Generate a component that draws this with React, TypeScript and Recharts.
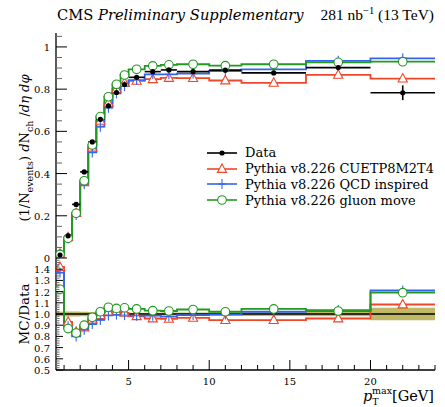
import React from "react";
import {
  ComposedChart, Line, Scatter, Area, XAxis, YAxis, ErrorBar, ReferenceLine,
} from "recharts";

const SERIF = "'DejaVu Serif', 'Liberation Serif', serif";
const TIMES = "'Liberation Serif', 'DejaVu Serif', serif";
const RED = "#f0462a";
const BLUE = "#3565ee";
const GREEN = "#229922";
const OLIVE = "#a9a232";

// bins in pT max [GeV]
const binEdges = [0.5, 1, 1.5, 2, 2.5, 3, 3.5, 4, 4.5, 5, 6, 7, 8, 10, 12, 16, 20, 24];
const binCenters = [0.75, 1.25, 1.75, 2.25, 2.75, 3.25, 3.75, 4.25, 4.75, 5.5, 6.5, 7.5, 9, 11, 14, 18, 22];

// upper panel: (1/Nevents) dNch/deta dphi
const dataValues = [0.014, 0.105, 0.254, 0.408, 0.55, 0.657, 0.721, 0.784, 0.822, 0.856, 0.883, 0.891, 0.883, 0.89, 0.877, 0.902, 0.783];
const dataErrors = [0.002, 0.004, 0.005, 0.005, 0.005, 0.005, 0.005, 0.005, 0.005, 0.005, 0.005, 0.005, 0.005, 0.006, 0.008, 0.012, 0.035];
const cuetp8Values = [0.02, 0.098, 0.213, 0.359, 0.523, 0.65, 0.735, 0.8, 0.83, 0.839, 0.847, 0.853, 0.852, 0.841, 0.83, 0.868, 0.85];
const qcdValues = [0.019, 0.093, 0.204, 0.35, 0.5, 0.622, 0.712, 0.78, 0.814, 0.843, 0.87, 0.87, 0.874, 0.886, 0.894, 0.934, 0.946];
const gluonValues = [0.017, 0.093, 0.212, 0.366, 0.535, 0.67, 0.764, 0.823, 0.867, 0.894, 0.91, 0.915, 0.918, 0.911, 0.918, 0.927, 0.93];

// lower panel: MC / Data
const dataRatioErrors = [0.02, 0.022, 0.022, 0.02, 0.018, 0.015, 0.012, 0.012, 0.012, 0.012, 0.012, 0.013, 0.014, 0.015, 0.018, 0.02, 0.055];
const cuetp8Ratio = [1.42, 0.93, 0.84, 0.88, 0.95, 0.99, 1.02, 1.02, 1.01, 0.98, 0.96, 0.957, 0.965, 0.945, 0.946, 0.96, 1.085];
const qcdRatio = [1.37, 0.89, 0.8, 0.86, 0.91, 0.947, 0.987, 0.995, 0.99, 0.985, 0.985, 0.977, 0.99, 0.995, 1.02, 1.035, 1.21];
const gluonRatio = [1.22, 0.87, 0.83, 0.9, 0.97, 1.02, 1.06, 1.05, 1.055, 1.045, 1.03, 1.027, 1.04, 1.02, 1.045, 1.027, 1.19];

// ticks
const xMinorTicks = Array.from({ length: 24 }, (_, i) => i + 1);
const xMajorTicks = [5, 10, 15, 20];
const topYLabels = [0, 0.2, 0.4, 0.6, 0.8, 1];
const topYTicks = Array.from({ length: 22 }, (_, i) => Math.round(i * 5) / 100);
const ratioYLabels = [0.5, 0.6, 0.7, 0.8, 0.9, 1.0, 1.1, 1.2, 1.3, 1.4];
const ratioYTicks = Array.from({ length: 51 }, (_, i) => Math.round(500 + i * 20) / 1000);

const steps = (vals: number[]) => [
  ...vals.map((v, i) => ({ x: binEdges[i], y: v })),
  { x: binEdges[vals.length], y: vals[vals.length - 1] },
];
const points = (vals: number[]) => vals.map((v, i) => ({ x: binCenters[i], y: v }));

const dataPoints = dataValues.map((v, i) => ({
  x: binCenters[i],
  y: v,
  xe: (binEdges[i + 1] - binEdges[i]) / 2,
  ye: dataErrors[i],
}));
const bandData = [
  ...dataRatioErrors.map((e, i) => ({ x: binEdges[i], band: [1 - e, 1 + e] })),
  { x: 24, band: [1 - dataRatioErrors[16], 1 + dataRatioErrors[16]] },
];

const isIn = (list: number[], v: number) => list.some((l) => Math.abs(l - v) < 1e-6);

const Triangle = (p: any) => (
  <path
    d={`M${p.cx},${p.cy - 5} L${p.cx + 4.6},${p.cy + 3.4} L${p.cx - 4.6},${p.cy + 3.4} Z`}
    fill="#fff" stroke={RED} strokeWidth={1.1}
  />
);
const Plus = (p: any) => (
  <g stroke={BLUE} strokeWidth={1.1}>
    <line x1={p.cx - 4} x2={p.cx + 4} y1={p.cy} y2={p.cy} />
    <line x1={p.cx} x2={p.cx} y1={p.cy - 5} y2={p.cy + 5} />
  </g>
);
const Circle = (p: any) => (
  <circle cx={p.cx} cy={p.cy} r={4.3} fill="#fff" stroke={GREEN} strokeWidth={1.1} />
);
const Dot = (p: any) => <circle cx={p.cx} cy={p.cy} r={2.6} fill="#000" />;

function YTick(props: any) {
  const { x, y, payload, side, labels, majorLen, minorLen, fmt } = props;
  const v = payload.value;
  const major = isIn(labels, v);
  const dir = side === "left" ? 1 : -1;
  const len = major ? majorLen : minorLen;
  return (
    <g>
      <line x1={x} x2={x + dir * len} y1={y} y2={y} stroke={major ? "#000" : "#666"} strokeWidth={1} />
      {major && side === "left" && (
        <text x={x - 6} y={y} dy={4} textAnchor="end" fontSize={10} fontFamily={SERIF} fill="#000">
          {fmt(v)}
        </text>
      )}
    </g>
  );
}

function XTick(props: any) {
  const { x, y, payload, dir, majorLen, minorLen, labels } = props;
  const major = isIn(xMajorTicks, payload.value);
  const len = major ? majorLen : minorLen;
  return (
    <g>
      <line x1={x} x2={x} y1={y} y2={y + dir * len} stroke="#000" strokeWidth={1} />
      {labels && major && (
        <text x={x} y={y + 15} textAnchor="middle" fontSize={10} fontFamily={SERIF} fill="#000">
          {payload.value}
        </text>
      )}
    </g>
  );
}

const series = [
  { name: "Pythia v8.226 CUETP8M2T4", color: RED, top: cuetp8Values, ratio: cuetp8Ratio, shape: Triangle },
  { name: "Pythia v8.226 QCD inspired", color: BLUE, top: qcdValues, ratio: qcdRatio, shape: Plus },
  { name: "Pythia v8.226 gluon move", color: GREEN, top: gluonValues, ratio: gluonRatio, shape: Circle },
];

const xProps = {
  type: "number" as const,
  dataKey: "x",
  domain: [0.5, 24],
  ticks: xMinorTicks,
  interval: 0 as const,
  allowDataOverflow: true,
  tickSize: 0,
  tickMargin: 0,
  tickLine: false,
  axisLine: { stroke: "#000", strokeWidth: 1.3 },
};

function Legend() {
  const rows = [{ name: "Data", color: "#000", shape: Dot }, ...series];
  return (
    <div style={{ position: "absolute", left: 205, top: 145, fontFamily: SERIF, fontSize: 13 }}>
      {rows.map((r) => (
        <div key={r.name} style={{ display: "flex", alignItems: "center", height: 15.8 }}>
          <svg width={34} height={14}>
            <line x1={2} x2={32} y1={7} y2={7} stroke={r.color} strokeWidth={1.6} />
            {r.shape({ cx: 17, cy: 7 })}
          </svg>
          <span style={{ marginLeft: 6, whiteSpace: "nowrap" }}>{r.name}</span>
        </div>
      ))}
    </div>
  );
}

export default function App() {
  return (
    <div style={{ position: "absolute", left: 0, top: 0, width: 445, height: 407, background: "#fff" }}>
      {/* lower panel: ratio */}
      <div style={{ position: "absolute", left: 0, top: 0 }}>
        <ComposedChart width={445} height={407} data={bandData} margin={{ top: 258, right: 10, bottom: 0, left: 8 }}>
          <XAxis {...xProps} height={37}
            tick={(p: any) => <XTick {...p} dir={-1} majorLen={10} minorLen={5} labels />} />
          <XAxis {...xProps} xAxisId="top" orientation="top" height={0}
            tick={(p: any) => <XTick {...p} dir={1} majorLen={11} minorLen={6} />} />
          <YAxis type="number" domain={[0.5, 1.5]} ticks={ratioYTicks} interval={0} allowDataOverflow
            width={48} tickSize={0} tickMargin={0} tickLine={false} axisLine={{ stroke: "#000", strokeWidth: 1.3 }}
            tick={(p: any) => <YTick {...p} side="left" labels={ratioYLabels} majorLen={7} minorLen={3.5} fmt={(v: number) => v.toFixed(1)} />} />
          <YAxis yAxisId="r" orientation="right" type="number" domain={[0.5, 1.5]} ticks={ratioYTicks} interval={0}
            width={0} tickSize={0} tickMargin={0} tickLine={false} axisLine={{ stroke: "#000", strokeWidth: 1.3 }}
            tick={(p: any) => <YTick {...p} side="right" labels={ratioYLabels} majorLen={7} minorLen={3.5} />} />
          <Area dataKey="band" type="stepAfter" fill={OLIVE} fillOpacity={0.75} stroke="none" isAnimationActive={false} />
          <ReferenceLine y={1} stroke="#000" strokeWidth={1.3} />
          {series.map((s) => (
            <Line key={s.name} data={steps(s.ratio)} dataKey="y" type="stepAfter" stroke={s.color}
              strokeWidth={1.8} dot={false} activeDot={false} isAnimationActive={false} />
          ))}
          {series.map((s) => (
            <Scatter key={s.name + "m"} data={points(s.ratio)} dataKey="y" shape={s.shape} isAnimationActive={false} />
          ))}
        </ComposedChart>
      </div>

      {/* upper panel */}
      <div style={{ position: "absolute", left: 0, top: 0 }}>
        <ComposedChart width={445} height={268} margin={{ top: 33, right: 10, bottom: 10, left: 8 }}>
          <XAxis {...xProps} height={0}
            tick={(p: any) => <XTick {...p} dir={-1} majorLen={8} minorLen={5} />} />
          <XAxis {...xProps} xAxisId="top" orientation="top" height={0}
            tick={(p: any) => <XTick {...p} dir={1} majorLen={10} minorLen={5} />} />
          <YAxis type="number" domain={[0, 1.066]} ticks={topYTicks} interval={0} allowDataOverflow
            width={48} tickSize={0} tickMargin={0} tickLine={false} axisLine={{ stroke: "#000", strokeWidth: 1.3 }}
            tick={(p: any) => <YTick {...p} side="left" labels={topYLabels} majorLen={11} minorLen={6} fmt={(v: number) => String(v)} />} />
          <YAxis yAxisId="r" orientation="right" type="number" domain={[0, 1.066]} ticks={topYTicks} interval={0}
            width={0} tickSize={0} tickMargin={0} tickLine={false} axisLine={{ stroke: "#000", strokeWidth: 1.3 }}
            tick={(p: any) => <YTick {...p} side="right" labels={topYLabels} majorLen={11} minorLen={6} />} />
          {series.map((s) => (
            <Line key={s.name} data={steps(s.top)} dataKey="y" type="stepAfter" stroke={s.color}
              strokeWidth={1.8} dot={false} activeDot={false} isAnimationActive={false} />
          ))}
          {series.map((s) => (
            <Scatter key={s.name + "m"} data={points(s.top)} dataKey="y" shape={s.shape} isAnimationActive={false} />
          ))}
          <Scatter data={dataPoints} dataKey="y" shape={Dot} isAnimationActive={false}>
            <ErrorBar dataKey="xe" direction="x" width={0} stroke="#000" strokeWidth={1.6} />
            <ErrorBar dataKey="ye" direction="y" width={0} stroke="#000" strokeWidth={1.6} />
          </Scatter>
        </ComposedChart>
      </div>

      <Legend />

      <svg width={445} height={407} style={{ position: "absolute", left: 0, top: 0, pointerEvents: "none" }}
        fontFamily={SERIF} fill="#000">
        <text x={57} y={20} fontSize={14.7}>
          CMS <tspan fontStyle="italic">Preliminary Supplementary</tspan>
        </text>
        <text x={434} y={20} fontSize={15.5} fontFamily={TIMES} textAnchor="end">
          281 nb<tspan dy={-6} fontSize={10.5}>−1</tspan><tspan dy={6}> (13 TeV)</tspan>
        </text>
        <text transform="translate(29,148) rotate(-90)" textAnchor="middle" fontSize={13}>
          (1/N<tspan dy={4} fontSize={9.5}>events</tspan><tspan dy={-4}>) </tspan>
          <tspan fontStyle="italic">d</tspan>N<tspan dy={4} fontSize={9.5}>ch</tspan>
          <tspan dy={-4}> /</tspan><tspan fontStyle="italic">dη dφ</tspan>
        </text>
        <text transform="translate(29,314) rotate(-90)" textAnchor="middle" fontSize={13.5}>MC/Data</text>
        <text x={434} y={401} fontSize={14.5} textAnchor="end">
          <tspan fontStyle="italic">p</tspan>
          <tspan dy={4} fontSize={9.5}>T</tspan>
          <tspan dx={-6.5} dy={-11} fontSize={9.5}>max</tspan>
          <tspan dy={7}>[GeV]</tspan>
        </text>
      </svg>
    </div>
  );
}
